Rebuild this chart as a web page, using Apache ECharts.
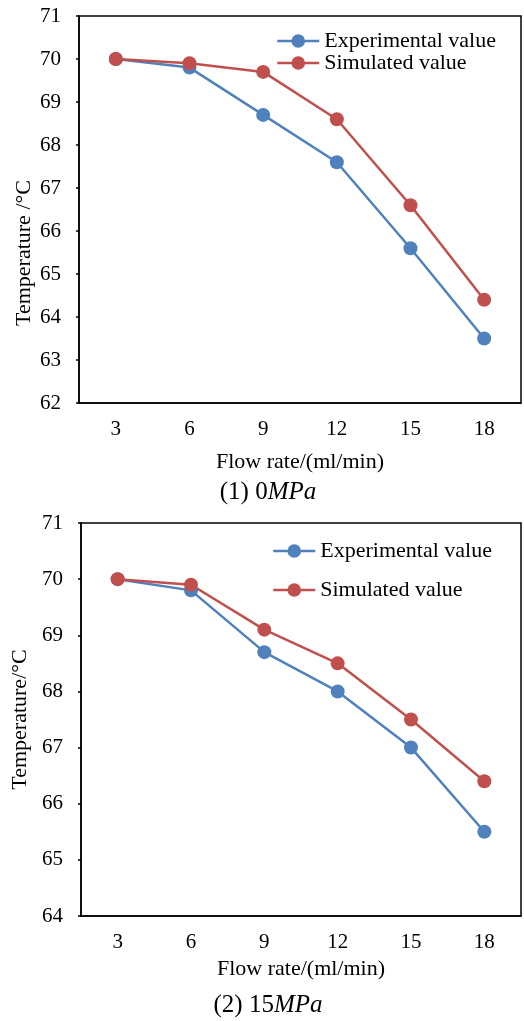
<!DOCTYPE html>
<html>
<head>
<meta charset="utf-8">
<script src="https://cdn.jsdelivr.net/npm/echarts@6/dist/echarts.min.js"></script>
<style>html,body{margin:0;padding:0;background:#fff}#c{width:524px;height:1021px}</style>
</head>
<body>
<div id="c"></div>
<script>
var categories = ['3', '6', '9', '12', '15', '18'];
var exp0 = [70, 69.8, 68.7, 67.6, 65.6, 63.5];
var sim0 = [70, 69.9, 69.7, 68.6, 66.6, 64.4];
var exp15 = [70, 69.8, 68.7, 68.0, 67.0, 65.5];
var sim15 = [70, 69.9, 69.1, 68.5, 67.5, 66.4];
var yRange0 = [62, 71];
var yRange15 = [64, 71];

var FONT = 'Liberation Serif';
var BLUE = '#4F81BD', RED = '#C0504D';

var chart = echarts.init(document.getElementById('c'), null, {renderer: 'canvas'});

function xAxis(gi, gap) {
  return {
    type: 'category', gridIndex: gi, data: categories, boundaryGap: true,
    name: 'Flow rate/(ml/min)', nameLocation: 'middle', nameGap: gap,
    nameTextStyle: {fontFamily: FONT, fontSize: 22, color: '#000'},
    axisLine: {lineStyle: {color: '#000', width: 1.5}},
    axisTick: {inside: true, length: 5, lineStyle: {color: '#000', width: 1.5}},
    axisLabel: {fontFamily: FONT, fontSize: 21, color: '#000', margin: 16},
    splitLine: {show: false}
  };
}
function yAxis(gi, r, name, gap) {
  return {
    type: 'value', gridIndex: gi, min: r[0], max: r[1], interval: 1,
    name: name, nameLocation: 'middle', nameGap: gap,
    nameTextStyle: {fontFamily: FONT, fontSize: 22, color: '#000'},
    axisLine: {show: true, lineStyle: {color: '#000', width: 1.5}},
    axisTick: {show: true, length: 3, lineStyle: {color: '#000', width: 1.5}},
    axisLabel: {fontFamily: FONT, fontSize: 21, color: '#000', margin: 18},
    splitLine: {show: false}
  };
}
function series(name, data, color, gi) {
  return {
    type: 'line', name: name, data: data, xAxisIndex: gi, yAxisIndex: gi,
    symbol: 'circle', symbolSize: 14, color: color,
    lineStyle: {width: 2.5, color: color}, itemStyle: {color: color},
    animation: false
  };
}

chart.setOption({
  animation: false,
  grid: [
    {left: 79, top: 16, width: 442, height: 387, show: true, borderColor: '#000', borderWidth: 1.5, backgroundColor: 'transparent'},
    {left: 81, top: 523, width: 440, height: 393, show: true, borderColor: '#000', borderWidth: 1.5, backgroundColor: 'transparent'}
  ],
  xAxis: [xAxis(0, 48), xAxis(1, 42)],
  yAxis: [yAxis(0, yRange0, '', 43), yAxis(1, yRange15, 'Temperature/\u00B0C', 46)],
  legend: [
    {
      orient: 'vertical', left: 271, top: 25, itemWidth: 42, itemHeight: 17, itemGap: 0,
      lineStyle: {width: 2.5},
      textStyle: {fontFamily: FONT, fontSize: 22, color: '#000'},
      data: ['Experimental value', 'Simulated value'], selectedMode: false
    },
    {
      orient: 'vertical', left: 267, top: 535, itemWidth: 42, itemHeight: 17, itemGap: 17,
      lineStyle: {width: 2.5},
      textStyle: {fontFamily: FONT, fontSize: 22, color: '#000'},
      data: ['Experimental value ', 'Simulated value '], selectedMode: false
    }
  ],
  series: [
    series('Experimental value', exp0, BLUE, 0),
    series('Simulated value', sim0, RED, 0),
    series('Experimental value ', exp15, BLUE, 1),
    series('Simulated value ', sim15, RED, 1)
  ],
  graphic: [
    {type: 'text', x: 24, y: 253, rotation: Math.PI / 2, style: {text: 'Temperature /\u00B0C', fontFamily: FONT, fontSize: 22, fill: '#000', align: 'center', verticalAlign: 'middle'}},
    {type: 'text', x: 268, y: 492, style: {text: '(1) 0{i|MPa}', fontFamily: FONT, fontSize: 25, fill: '#000', align: 'center', verticalAlign: 'middle',
      rich: {i: {fontFamily: FONT, fontSize: 25, fontStyle: 'italic', fill: '#000'}}}},
    {type: 'text', x: 268, y: 1005, style: {text: '(2) 15{i|MPa}', fontFamily: FONT, fontSize: 25, fill: '#000', align: 'center', verticalAlign: 'middle',
      rich: {i: {fontFamily: FONT, fontSize: 25, fontStyle: 'italic', fill: '#000'}}}}
  ]
});
</script>
</body>
</html>
